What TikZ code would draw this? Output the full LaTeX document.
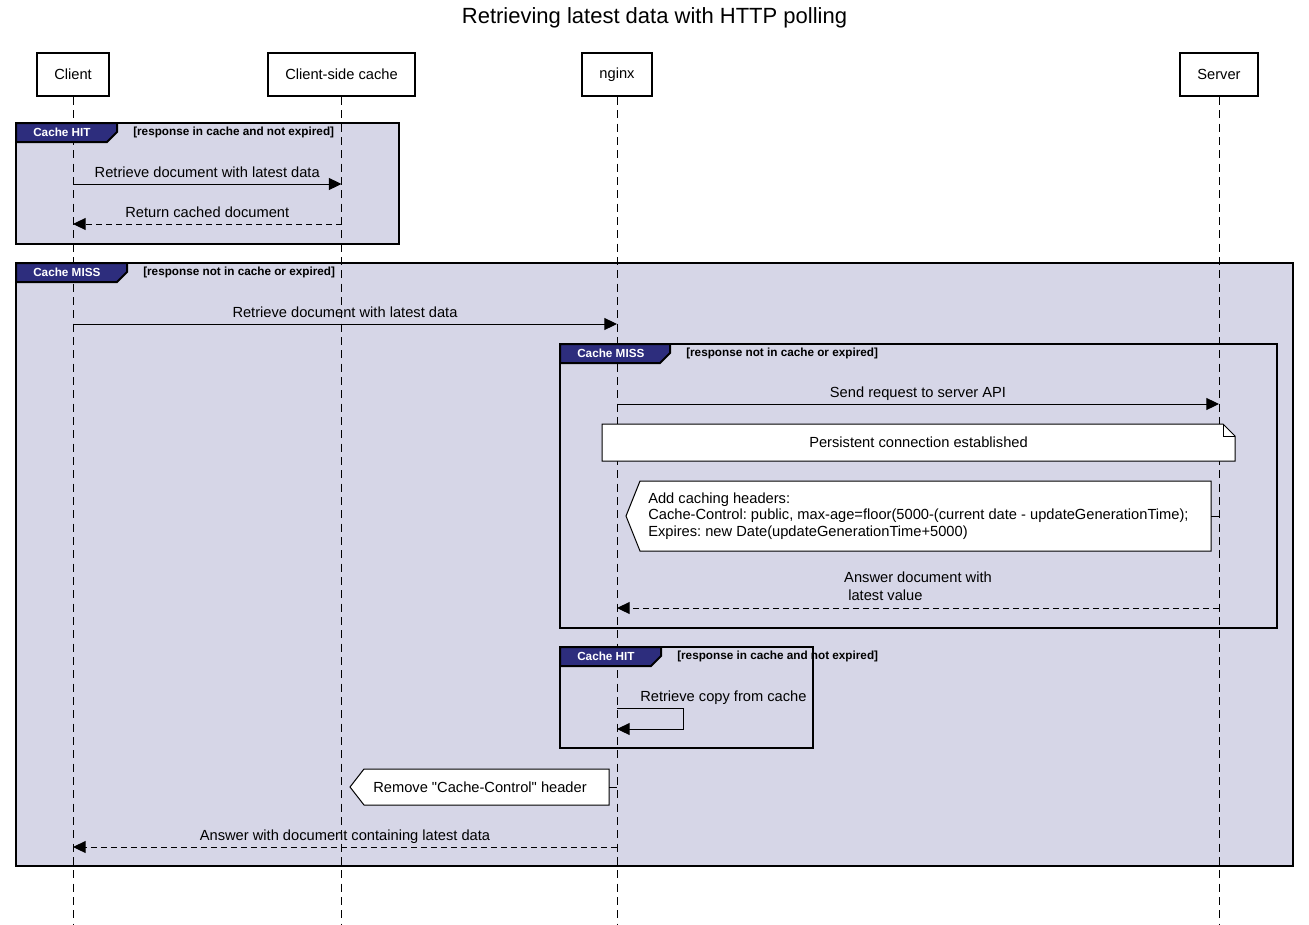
\documentclass[tikz,border=0pt]{standalone}
\usepackage{fontspec}
\setmainfont{Liberation Sans}[Ligatures=TeXOff]
\usepackage{xcolor}
\usepackage{tikz}
\usetikzlibrary{calc}
\usetikzlibrary{arrows.meta}
\definecolor{fragfill}{RGB}{214,214,231}
\definecolor{tabblue}{RGB}{45,45,125}
\frenchspacing

\begin{document}
\begin{tikzpicture}[x=0.75pt, y=-0.75pt,
        every node/.style={font=\fontsize{11}{13.5}\selectfont},
        actor/.style={draw, line width=1.5pt, inner xsep=13.1pt, minimum height=32.25pt},
        lifeline/.style={line width=0.75pt, dash pattern=on 6pt off 4pt},
        msg/.style={line width=0.75pt, -{Triangle[length=9.5pt,width=9pt]}},
        reply/.style={msg, dash pattern=on 4.5pt off 3pt},
        msglabel/.style={midway, anchor=base, yshift=5pt, inner sep=0pt},
        frameline/.style={line width=1.5pt},
        tablabel/.style={anchor=west, text=white, inner sep=0pt, font=\fontsize{8.8}{10}\selectfont\bfseries},
        guardlabel/.style={anchor=west, inner sep=0pt, font=\fontsize{8.8}{10}\selectfont\bfseries},
        notebox/.style={draw, fill=white, line width=0.75pt}]
        \useasboundingbox (0,0) rectangle (1309,924);
        %TITLE
        \node[font=\fontsize{16.5}{20}\selectfont] (title) at (654.5,18) {Retrieving latest data with HTTP polling};
        %PARTICIPANTS
        \node[actor] (client) at (73,74.5) {Client};
        \node[actor] (cache) at (341.5,74.5) {Client-side cache};
        \node[actor] (nginx) at (617,74.5) {nginx};
        \node[actor] (server) at (1219,74.5) {Server};
        %FRAME FILLS
        \foreach \fx/\fy/\fw/\fh in {16/263/1277/603, 16/123/383/121, 560/344/717/284, 560/647/253/101}
            \fill[fragfill] (\fx,\fy) rectangle ++(\fw,\fh);
        %LIFELINES
        \coordinate (bottom) at (0,924);
        \foreach \p in {client,cache,nginx,server}
            \draw[lifeline] (\p.south) -- (\p |- bottom);
        %FRAMES
        \foreach \fx/\fy/\fw/\fh/\tw/\tag/\guard in {16/263/1277/603/111/Cache MISS/{[response not in cache or expired]},
                16/123/383/121/101/Cache HIT/{[response in cache and not expired]},
                560/344/717/284/110/Cache MISS/{[response not in cache or expired]},
                560/647/253/101/101/Cache HIT/{[response in cache and not expired]}}{
            \draw[frameline] (\fx,\fy) rectangle ++(\fw,\fh);
            \filldraw[fill=tabblue, frameline] (\fx,\fy) -- ++(\tw,0) -- ++(0,9) -- ++(-10,10) -- (\fx,\fy+19) -- cycle;
            \node[tablabel] (tab\fy) at (\fx+17,\fy+9.5) {\tag};
            \node[guardlabel] (guard\fy) at (\fx+\tw+16,\fy+9.5) {\guard};
        }
        %MESSAGES
        \coordinate (m1) at (0,184);
        \coordinate (m2) at (0,224);
        \coordinate (m3) at (0,324);
        \coordinate (m4) at (0,404);
        \coordinate (m5) at (0,608);
        \coordinate (m6) at (0,847);
        \draw[msg] (client |- m1) -- (cache |- m1) node[msglabel] (l1) {Retrieve document with latest data};
        \draw[reply] (cache |- m2) -- (client |- m2) node[msglabel] (l2) {Return cached document};
        \draw[msg] (client |- m3) -- (nginx |- m3) node[msglabel] (l3) {Retrieve document with latest data};
        \draw[msg] (nginx |- m4) -- (server |- m4) node[msglabel] (l4) {Send request to server API};
        %NOTE PERSISTENT
        \draw[notebox] (602,424) -- (1223,424) -- (1235,436) -- (1235,461) -- (602,461) -- cycle;
        \draw[line width=0.75pt] (1223,424) -- (1223,436) -- (1235,436);
        \node (persist) at (918.5,442) {Persistent connection established};
        %NOTE HEADERS
        \draw[notebox] (640,481) -- (1211,481) -- (1211,551) -- (640,551) -- (626,516) -- cycle;
        \node[anchor=west, align=left, inner sep=0pt, font=\fontsize{11}{12.4}\selectfont] (headers) at (648,516) {Add caching headers:\\Cache-Control: public, max-age=floor(5000-(current date - updateGenerationTime);\\Expires: new Date(updateGenerationTime+5000)};
        \coordinate (headerstip) at (1211,516);
        \draw[line width=0.75pt] (headerstip) -- (server |- headerstip);
        \draw[reply] (server |- m5) -- (nginx |- m5) node[midway, anchor=south, align=left, inner sep=0pt, yshift=5pt] (l5) {Answer document with\\\ latest value};
        %SELF MESSAGE
        \coordinate (s1) at (0,708);
        \coordinate (s2) at (0,729);
        \draw[msg] (nginx |- s1) -- ++(66,0) -- ++(0,21) -- (nginx |- s2);
        \node[anchor=base west, inner sep=0pt] (selflabel) at (640,701) {Retrieve copy from cache};
        %NOTE REMOVE
        \draw[notebox] (364,769) -- (609,769) -- (609,805) -- (364,805) -- (350,787) -- cycle;
        \node (remove) at (480,787) {Remove "Cache-Control" header};
        \coordinate (removetip) at (609,787);
        \draw[line width=0.75pt] (removetip) -- (nginx |- removetip);
        \draw[reply] (nginx |- m6) -- (client |- m6) node[msglabel] (l6) {Answer with document containing latest data};
\end{tikzpicture}
\end{document}
